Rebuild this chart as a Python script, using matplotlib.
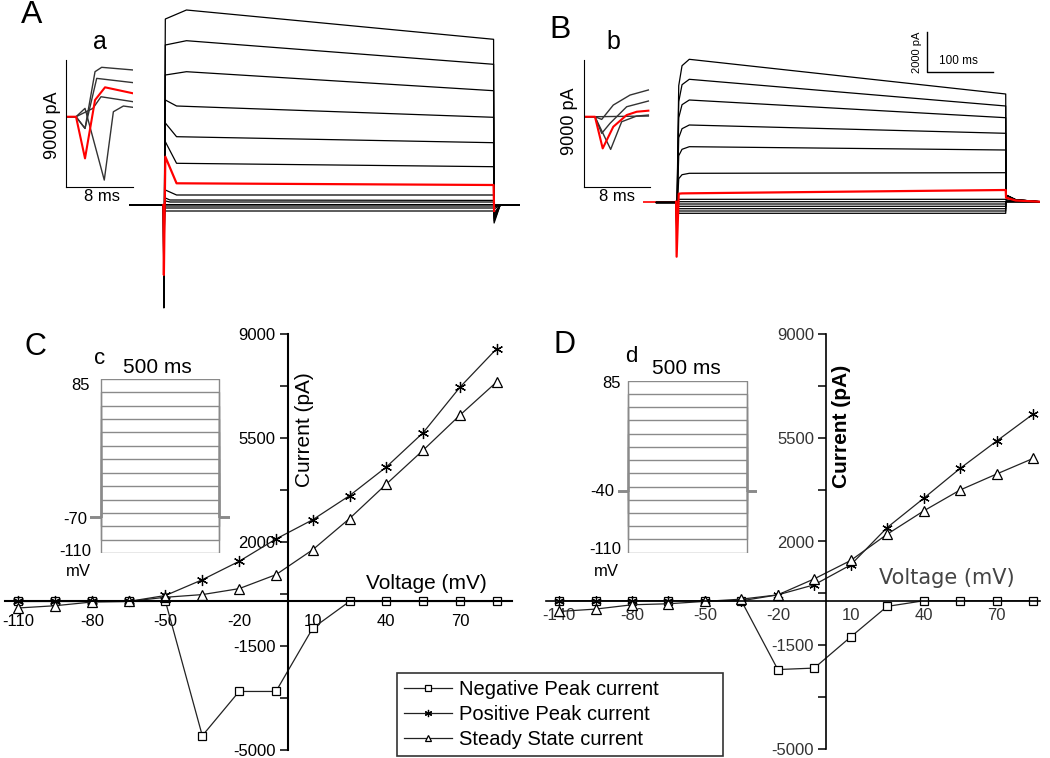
import numpy as np
import matplotlib
matplotlib.use("Agg")
import matplotlib.pyplot as plt

plt.rcParams['font.family'] = ['Liberation Sans', 'DejaVu Sans']
plt.rcParams['axes.unicode_minus'] = False

# ---- I-V data (panels C and D) ----
volt = [-110, -95, -80, -65, -50, -35, -20, -5, 10, 25, 40, 55, 70, 85]

c_neg = [0, 0, 0, 0, 0, -4520, -3030, -3030, -900, 0, 0, 0, 0, 0]
c_pos = [0, 0, 0, 0, 200, 730, 1350, 2100, 2750, 3560, 4525, 5680, 7210, 8510]
c_ss = [-220, -145, -20, 0, 140, 230, 430, 900, 1740, 2790, 3950, 5090, 6270, 7390]

d_neg = [0, 0, 0, 0, 0, 0, -2320, -2270, -1220, -190, 0, 0, 0, 0]
d_pos = [0, 0, 0, 0, 0, 0, 200, 540, 1210, 2470, 3455, 4465, 5385, 6295]
d_ss = [-360, -280, -135, -100, -20, 55, 200, 740, 1360, 2245, 3030, 3736, 4275, 4800]

iv_yticks = [9000, 5500, 2000, -1500, -5000]
iv_yminor = [7250, 3750, 250, -3250]
c_xticks = [-110, -80, -50, -20, 10, 40, 70]
c_xlabels = ['-110', '-80', '-50', '-20', '10', '40', '70']
d_xlabels = ['-140', '-80', '-50', '-20', '10', '40', '70']

# ---- voltage protocols (insets c, d) ----
steps = [85, 70, 55, 40, 25, 10, -5, -20, -35, -50, -65, -80, -95, -110]
hold_c = -70
hold_d = -40

# ---- current traces, panel A (pA, key points read per sweep, top to bottom) ----
a_onset = [9300, 8000, 6500, 5250, 4100, 3165, 2415, 750, 350, 200, 20, -50, -150, -300]
a_start = [9750, 8215, 6665, 4950, 3415, 2085, 1085, 500, 250, 150, 20, -50, -150, -300]
a_end = [8285, 7035, 5715, 4385, 3115, 1915, 1000, 500, 230, 150, 20, -50, -150, -300]
a_settle = [35, 35, 35, 20, 20, 20, 20, 20, 10, 10, 10, 10, 10, 10]
a_spike = [-5150, -5000, -4800, -4500, -4200, -3900, -3500, -2000, -1000, -500, -200, -100, -50, -20]
a_tail = [-900, -800, -700, -600, -500, -400, -300, -200, -100, -50, 0, 0, 0, 0]

# ---- current traces, panel B ----
b_rise = [5800, 5000, 4200, 3200, 2300, 1150, 400, 120, 0, -115, -230, -350, -465, -580]
b_knee = [6800, 5850, 4850, 3650, 2620, 1350, 415, 120, 0, -115, -230, -350, -465, -580]
b_start = [7120, 6120, 5085, 3835, 2750, 1420, 420, 120, 0, -115, -230, -350, -465, -580]
b_end = [5385, 4785, 4200, 3420, 2585, 1450, 585, 120, 0, -115, -230, -350, -465, -580]
b_spike = [-1400, -1300, -1200, -1100, -1000, -900, -2750, -600, -500, -400, -300, -200, -100, -50]
b_tail = [330, 330, 330, 330, 330, 300, 200, 100, 50, 0, 0, 0, 0, 0]
red_idx = 6

# ---- inset a / b: first ms of sweeps (ms, pA) ----
ia_t = [[0, 1.19, 2.26, 3.45, 4.24, 8.0],
        [0, 1.19, 2.26, 3.65, 8.0],
        [0, 1.19, 3.2, 4.16, 8.0],
        [0, 1.19, 2.26, 4.55, 5.63, 6.82, 8.0]]
ia_i = [[0, 0, -830, 3200, 3510, 3320],
        [0, 0, -830, 2725, 2420],
        [0, 0, 595, 1420, 1065],
        [0, 0, 595, -4500, 355, 760, 665]]
ia_red_t = [0, 1.19, 2.26, 3.45, 4.64, 8.0]
ia_red_i = [0, 0, -2960, 1185, 2090, 1660]

ib_t = [[0, 1.30, 2.12, 3.53, 5.57, 7.80],
        [0, 1.30, 2.12, 3.13, 5.16, 7.80],
        [0, 1.30, 3.21, 4.55, 6.38, 7.80],
        [0, 1.30, 7.80]]
ib_i = [[0, 0, -190, 830, 1540, 1900],
        [0, 0, -1180, -470, 710, 1115],
        [0, 0, -2320, -355, 50, 120],
        [0, 0, 50]]
ib_red_t = [0, 1.30, 2.24, 3.53, 5.16, 6.38, 7.80]
ib_red_i = [0, 0, -2250, -710, 120, 355, 430]

W, H = 1050, 758
fig = plt.figure(figsize=(10.5, 7.58), dpi=100)


def pax(x0, y0, x1, y1):
    return fig.add_axes([x0 / W, 1 - y1 / H, (x1 - x0) / W, (y1 - y0) / H])


def ftext(x, y, s, **kw):
    kw.setdefault('ha', 'center')
    kw.setdefault('va', 'center')
    fig.text(x / W, 1 - y / H, s, **kw)


# ================= panel A =================
axA = pax(129, 0, 520, 310)
for i in range(len(a_start)):
    t = [-52, 0, 0.8, 3, a_settle[i], 500, 500.8, 510, 540]
    y = [0, 0, a_spike[i], a_onset[i], a_start[i], a_end[i], a_tail[i], 0, 0]
    if i == red_idx:
        axA.plot(t[:2], y[:2], color='red', lw=1.2, zorder=1)
        axA.plot(t[1:7], y[1:7], color='red', lw=1.6, zorder=3)
    else:
        axA.plot(t, y, color='black', lw=0.9, zorder=2)
axA.set_xlim(-52, 540)
axA.set_ylim(-5250, 10250)
axA.axis('off')

# inset a
axa = pax(66, 60, 133.3, 186.7)
for t, y in zip(ia_t, ia_i):
    axa.plot(t, y, color='#333333', lw=1)
axa.plot(ia_red_t, ia_red_i, color='red', lw=1.5)
axa.set_xlim(0, 8)
axa.set_ylim(-4970, 4030)
for s in ['top', 'right']:
    axa.spines[s].set_visible(False)
axa.set_xticks([])
axa.set_yticks([])

# ================= panel B =================
axB = pax(643, 0, 1040, 310)
for i in range(len(b_start)):
    t = [-50, 0, 0.8, 4, 9, 20, 500, 500.5, 515, 552]
    y = [0, 0, b_spike[i], b_rise[i], b_knee[i], b_start[i], b_end[i],
         b_tail[i], b_tail[i] * 0.3, 0]
    if i == red_idx:
        axB.plot(t[:2], y[:2], color='red', lw=1.2, zorder=1)
        axB.plot(t[1:], y[1:], color='red', lw=1.6, zorder=3)
    else:
        axB.plot(t[1:], y[1:], color='black', lw=0.9, zorder=2)
        axB.plot([-30, 0], [0, 0], color='black', lw=0.9, zorder=2)
# scale bar: 2000 pA, 100 ms
axB.plot([380, 380, 480], [8500, 6500, 6500], color='black', lw=1)
axB.set_xlim(-50.2, 552)
axB.set_ylim(-5415, 10085)
axB.axis('off')

axb = pax(584.3, 60, 650, 186.7)
for t, y in zip(ib_t, ib_i):
    axb.plot(t, y, color='#333333', lw=1)
axb.plot(ib_red_t, ib_red_i, color='red', lw=1.5)
axb.set_xlim(0, 8)
axb.set_ylim(-4970, 4030)
for s in ['top', 'right']:
    axb.spines[s].set_visible(False)
axb.set_xticks([])
axb.set_yticks([])

# ================= I-V panels =================


def iv_axes(ax, neg, pos, ss, xlabels, tickcolor, lw, ms):
    hn, = ax.plot(volt, neg, color='#222222', lw=0.9, marker='s', ms=ms,
                  mfc='white', mec='black', mew=0.9, label='Negative Peak current')
    hp, = ax.plot(volt, pos, color='#222222', lw=0.9, marker=(6, 2, 0), ms=ms + 2,
                  mec='black', mew=0.9, label='Positive Peak current')
    hs, = ax.plot(volt, ss, color='#222222', lw=0.9, marker='^', ms=ms + 1,
                  mfc='white', mec='black', mew=0.9, label='Steady State current')
    ax.spines['left'].set_position(('data', 0))
    ax.spines['bottom'].set_position(('data', 0))
    ax.spines['top'].set_visible(False)
    ax.spines['right'].set_visible(False)
    ax.spines['left'].set_linewidth(lw)
    ax.spines['bottom'].set_linewidth(lw)
    ax.set_ylim(-5000, 9000)
    ax.set_yticks(iv_yticks)
    ax.set_yticks(iv_yminor, minor=True)
    ax.set_yticklabels([str(v) for v in iv_yticks], fontsize=12, color=tickcolor)
    ax.tick_params(axis='y', which='both', direction='out', length=6, width=1.1, pad=3)
    ax.set_xticks(c_xticks)
    ax.set_xticklabels(xlabels, fontsize=12, color=tickcolor)
    ax.patch.set_visible(False)
    return hn, hp, hs


axC = pax(5, 334, 512, 750)
handles = iv_axes(axC, c_neg, c_pos, c_ss, c_xlabels, 'black', 1.5, 6)
axC.set_xlim(-115.4, 91.2)
axC.tick_params(axis='x', length=0, pad=9)

axD = pax(546, 334, 1040, 749)
iv_axes(axD, d_neg, d_pos, d_ss, d_xlabels, '#333333', 1.2, 5.5)
axD.set_xlim(-115.4, 87.9)
axD.tick_params(axis='x', length=0, pad=5)

# protocol insets


def protocol(ax, hold, t0, t1):
    for v in steps:
        ax.plot([t0, 0, 0, 500, 500, t1], [hold, hold, v, v, hold, hold],
                color='#8a8a8a', lw=1)
    ax.set_xlim(t0, t1)
    ax.set_ylim(-110, 85)
    ax.axis('off')


axc = pax(90, 378.7, 230, 553.3)
protocol(axc, hold_c, -46.6, 546.6)
axd = pax(618, 380.7, 757, 552.7)
protocol(axd, hold_d, -43, 541)

leg = fig.legend(handles=list(handles), loc='upper left',
                 bbox_to_anchor=(396.7 / W, 1 - 755 / H, 326.6 / W, 82.3 / H),
                 mode='expand', fontsize=14.5,
                 frameon=True, fancybox=False, edgecolor='black', borderpad=0.35,
                 labelspacing=0.3, handlelength=2.4, handletextpad=0.35,
                 markerscale=0.65, borderaxespad=0)
leg.get_frame().set_linewidth(1.2)

# ---- texts ----
ftext(31.7, 15, 'A', fontsize=23)
ftext(100, 42, 'a', fontsize=18)
ftext(52.7, 125, '9000 pA', fontsize=13, rotation=90)
ftext(101.7, 196.7, '8 ms', fontsize=12)
ftext(560, 30, 'B', fontsize=23)
ftext(613, 41.7, 'b', fontsize=18)
ftext(570, 121.7, '9000 pA', fontsize=13, rotation=90)
ftext(616.7, 196.7, '8 ms', fontsize=12)
ftext(916.7, 52, '2000 pA', fontsize=8, rotation=90)
ftext(958.5, 60.7, '100 ms', fontsize=8.5)

ftext(35, 346.7, 'C', fontsize=22)
ftext(305, 430, 'Current (pA)', fontsize=15, rotation=90)
ftext(426.7, 583.3, 'Voltage (mV)', fontsize=15)
ftext(100, 358, 'c', fontsize=16)
ftext(157, 368, '500 ms', fontsize=15)
ftext(81, 385, '85', fontsize=12)
ftext(75, 519, '-70', fontsize=12)
ftext(75, 552, '-110', fontsize=12)
ftext(78, 572, 'mV', fontsize=12)

ftext(565, 345, 'D', fontsize=22)
ftext(841.7, 426.7, 'Current (pA)', fontsize=15, rotation=90, fontweight='bold')
ftext(946.7, 578.3, 'Voltage (mV)', fontsize=15, color='#444444', family='DejaVu Sans')
ftext(631.7, 356.7, 'd', fontsize=16)
ftext(686.7, 368.3, '500 ms', fontsize=15)
ftext(611.7, 383, '85', fontsize=12)
ftext(602.7, 491.7, '-40', fontsize=12)
ftext(605, 550, '-110', fontsize=12)
ftext(606, 571.7, 'mV', fontsize=12)

fig.savefig('out.png', dpi=100)
